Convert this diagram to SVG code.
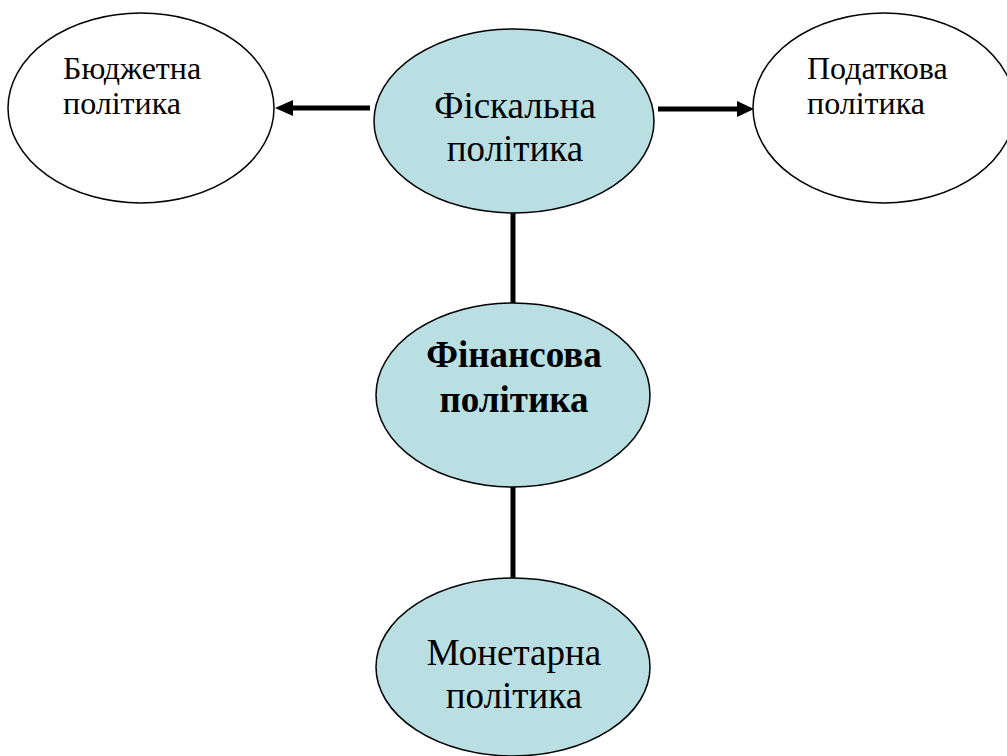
<svg xmlns="http://www.w3.org/2000/svg" width="1007" height="756" viewBox="0 0 1007 756">
<defs>
<style>
.n{stroke:#000;stroke-width:1.5}
.w{fill:#fff}
.b{fill:#b9dfe3}
.c{stroke:#000;stroke-width:5;fill:none}
</style>
</defs>
<rect width="1007" height="756" fill="#fff"/>
<g id="connectors">
<line class="c" x1="370" y1="108" x2="292" y2="108"/>
<path d="M293,100 L275,108 L293,116 z" fill="#000"/>
<line class="c" x1="658" y1="109" x2="737" y2="109"/>
<path d="M737,101 L754,109 L737,117 z" fill="#000"/>
<line class="c" x1="513" y1="212" x2="513" y2="304" stroke-width="6"/>
<line class="c" x1="513" y1="486" x2="513" y2="579" stroke-width="6"/>
</g>
<g font-family="'Liberation Serif', serif" fill="#000">
<g id="budget">
<ellipse class="n w" cx="141" cy="108" rx="133" ry="95"/>
<text x="63" y="79" font-size="32" fill="#000">Бюджетна</text>
<text x="63" y="114" font-size="32" fill="#000">політика</text>
</g>
<g id="fiscal">
<ellipse class="n b" cx="514" cy="121" rx="140" ry="92"/>
<text x="515" y="118" font-size="37" text-anchor="middle" fill="#000">Фіскальна</text>
<text x="515" y="161" font-size="37" text-anchor="middle" fill="#000">політика</text>
</g>
<g id="tax">
<ellipse class="n w" cx="884" cy="108" rx="131" ry="95"/>
<text x="807" y="79" font-size="32" fill="#000">Податкова</text>
<text x="807" y="114" font-size="32" fill="#000">політика</text>
</g>
<g id="finance">
<ellipse class="n b" cx="513" cy="395" rx="137" ry="92"/>
<text x="514" y="367" font-size="37" font-weight="bold" text-anchor="middle" fill="#000">Фінансова</text>
<text x="514" y="412" font-size="37" font-weight="bold" text-anchor="middle" fill="#000">політика</text>
</g>
<g id="monetary">
<ellipse class="n b" cx="513" cy="667" rx="137" ry="89"/>
<text x="514" y="665" font-size="37" text-anchor="middle" fill="#000">Монетарна</text>
<text x="514" y="708" font-size="37" text-anchor="middle" fill="#000">політика</text>
</g>
</g>
</svg>
